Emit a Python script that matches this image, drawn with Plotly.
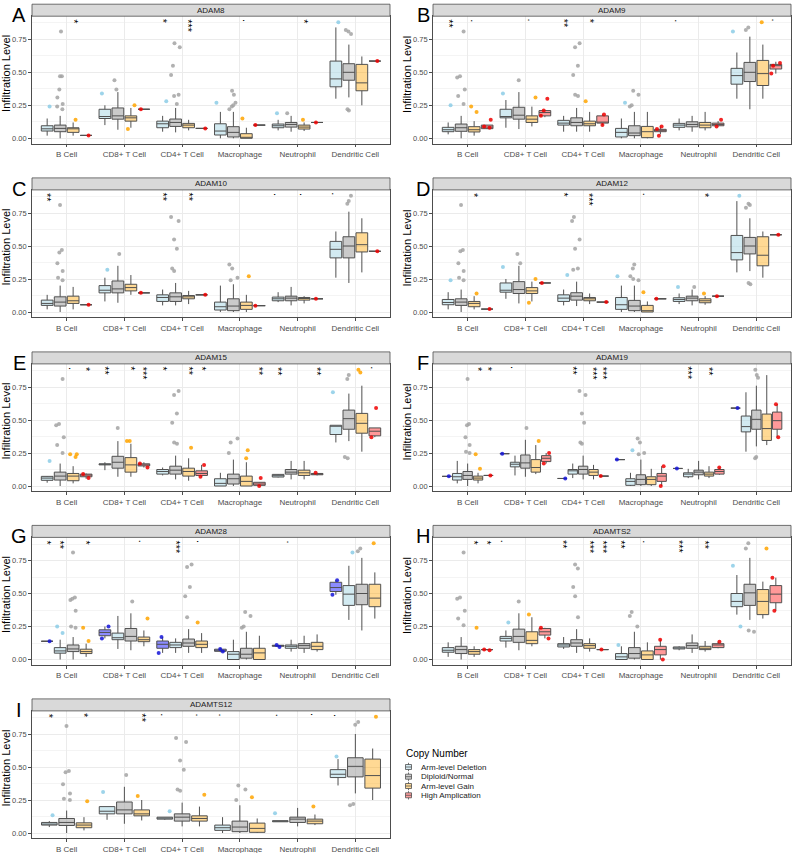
import plotly.graph_objects as go

CELLS = ["B Cell", "CD8+ T Cell", "CD4+ T Cell", "Macrophage", "Neutrophil", "Dendritic Cell"]
Y_TICKS = [0, 0.25, 0.5, 0.75]
Y_TICKTEXT = ["0.00", "0.25", "0.50", "0.75"]
LEGEND_LABELS = ["Arm-level Deletion", "Diploid/Normal", "Arm-level Gain", "High Amplication"]

# box stats per cell: (lower whisker, q1, median, q3, upper whisker); a single number = one sample
# ---- ADAM8 ----
A_DEL = [(0.02, 0.055, 0.072, 0.095, 0.15), (0.10, 0.15, 0.165, 0.22, 0.25), (0.05, 0.08, 0.11, 0.13, 0.17),
         (0.0, 0.025, 0.055, 0.11, 0.20), (0.06, 0.08, 0.095, 0.108, 0.14), (0.30, 0.39, 0.45, 0.585, 0.84)]
A_DIP = [(0.0, 0.05, 0.075, 0.10, 0.17), (0.065, 0.145, 0.17, 0.23, 0.35), (0.045, 0.09, 0.12, 0.146, 0.23),
         (0.0, 0.01, 0.045, 0.088, 0.20), (0.05, 0.085, 0.105, 0.12, 0.17), (0.31, 0.44, 0.50, 0.565, 0.71)]
A_GAIN = [(0.02, 0.045, 0.072, 0.08, 0.12), (0.08, 0.13, 0.155, 0.17, 0.23), (0.06, 0.08, 0.10, 0.113, 0.14),
          (0.0, 0.0, 0.005, 0.035, 0.08), (0.055, 0.07, 0.085, 0.10, 0.12), (0.25, 0.36, 0.42, 0.56, 0.62)]
A_AMP = [0.022, 0.22, 0.075, 0.10, 0.12, 0.585]
A_DEL_PTS = [[0.24], [0.34], [0.28], [0.27], [0.19], [0.88]]
A_DIP_PTS = [[0.81, 0.47, 0.47, 0.37, 0.31, 0.26, 0.24, 0.22], [0.44, 0.37], [0.72, 0.69, 0.55, 0.48, 0.33, 0.32, 0.26],
             [0.36, 0.33, 0.27, 0.25, 0.24, 0.22], [0.19], [0.82, 0.81, 0.79, 0.22, 0.21]]
A_GAIN_PTS = [[0.14], [0.25, 0.07], [], [0.15], [0.14], []]
A_SIG = [(0, "gain", "*"), (2, "del", "*"), (2, "gain", "***"), (3, "gain", "."), (4, "gain", "*")]

# ---- ADAM9 ----
B_DEL = [(0.03, 0.05, 0.065, 0.083, 0.12), (0.08, 0.155, 0.165, 0.22, 0.29), (0.05, 0.10, 0.115, 0.136, 0.17),
         (0.0, 0.01, 0.045, 0.075, 0.15), (0.06, 0.083, 0.10, 0.113, 0.15), (0.30, 0.41, 0.475, 0.53, 0.65)]
B_DIP = [(0.0, 0.053, 0.08, 0.108, 0.17), (0.07, 0.145, 0.175, 0.235, 0.35), (0.05, 0.095, 0.12, 0.155, 0.23),
         (0.0, 0.02, 0.04, 0.095, 0.20), (0.05, 0.087, 0.105, 0.125, 0.17), (0.22, 0.43, 0.50, 0.575, 0.77)]
B_GAIN = [(0.02, 0.048, 0.065, 0.088, 0.13), (0.09, 0.12, 0.145, 0.17, 0.24), (0.05, 0.095, 0.11, 0.13, 0.20),
          (0.0, 0.005, 0.05, 0.09, 0.20), (0.06, 0.08, 0.10, 0.12, 0.20), (0.30, 0.40, 0.49, 0.59, 0.71)]
B_AMP = [(0.07, 0.073, 0.085, 0.10, 0.10), (0.16, 0.17, 0.195, 0.21, 0.21), (0.10, 0.115, 0.12, 0.17, 0.18),
         (0.03, 0.05, 0.062, 0.068, 0.09), (0.09, 0.095, 0.105, 0.115, 0.13), (0.49, 0.525, 0.55, 0.56, 0.58)]
B_DEL_PTS = [[0.25], [0.34], [], [0.27], [], [0.81]]
B_DIP_PTS = [[0.81, 0.47, 0.46, 0.37, 0.32, 0.26], [0.44], [0.72, 0.69, 0.55, 0.48, 0.33, 0.32],
             [0.36, 0.33, 0.25, 0.24], [], [0.84, 0.82]]
B_GAIN_PTS = [[0.24, 0.20], [0.31], [0.28], [], [], [0.88]]
B_AMP_PTS = [[0.14, 0.08, 0.09], [0.30, 0.17, 0.21], [0.18, 0.10], [0.09, 0.02, 0.07], [0.14, 0.09], [0.57, 0.49, 0.55]]
B_SIG = [(0, "del", "**"), (0, "gain", "."), (1, "gain", "."), (2, "del", "**"), (2, "gain", "*"),
         (4, "del", "."), (5, "amp", ".")]

# ---- ADAM10 ----
C_DEL = [(0.02, 0.05, 0.065, 0.09, 0.13), (0.08, 0.145, 0.165, 0.20, 0.26), (0.05, 0.08, 0.11, 0.13, 0.17),
         (0.0, 0.015, 0.04, 0.075, 0.20), (0.075, 0.085, 0.10, 0.113, 0.15), (0.26, 0.41, 0.475, 0.535, 0.61)]
C_DIP = [(0.0, 0.045, 0.075, 0.115, 0.20), (0.07, 0.145, 0.175, 0.235, 0.35), (0.05, 0.08, 0.115, 0.145, 0.22),
         (0.0, 0.01, 0.045, 0.10, 0.21), (0.05, 0.085, 0.105, 0.12, 0.19), (0.22, 0.41, 0.50, 0.57, 0.76)]
C_GAIN = [(0.02, 0.065, 0.085, 0.12, 0.19), (0.13, 0.16, 0.185, 0.21, 0.28), (0.06, 0.10, 0.115, 0.125, 0.16),
          (0.0, 0.02, 0.05, 0.075, 0.13), (0.065, 0.09, 0.105, 0.11, 0.12), (0.30, 0.455, 0.51, 0.60, 0.71)]
C_AMP = [0.055, 0.145, 0.13, 0.048, 0.10, 0.46]
C_DEL_PTS = [[], [0.32], [], [], [], []]
C_DIP_PTS = [[0.81, 0.47, 0.45, 0.37, 0.31, 0.26, 0.24], [0.44], [0.72, 0.69, 0.55, 0.48, 0.33, 0.31],
             [0.36, 0.33, 0.26, 0.24], [], [0.88, 0.84, 0.82]]
C_GAIN_PTS = [[], [], [], [0.27], [], []]
C_SIG = [(0, "del", "**"), (2, "del", "**"), (2, "gain", "**"), (4, "del", "."), (4, "gain", "."), (5, "del", ".")]

# ---- ADAM12 ----
D_DEL = [(0.02, 0.055, 0.072, 0.095, 0.15), (0.10, 0.15, 0.165, 0.22, 0.25), (0.05, 0.08, 0.105, 0.13, 0.17),
         (0.0, 0.02, 0.055, 0.11, 0.20), (0.06, 0.08, 0.095, 0.108, 0.14), (0.30, 0.395, 0.45, 0.58, 0.84)]
D_DIP = [(0.0, 0.05, 0.075, 0.10, 0.17), (0.065, 0.14, 0.17, 0.23, 0.35), (0.045, 0.09, 0.12, 0.146, 0.23),
         (0.0, 0.01, 0.045, 0.088, 0.20), (0.05, 0.085, 0.105, 0.12, 0.17), (0.31, 0.44, 0.50, 0.565, 0.71)]
D_GAIN = [(0.02, 0.04, 0.065, 0.08, 0.12), (0.08, 0.14, 0.16, 0.185, 0.23), (0.06, 0.085, 0.10, 0.11, 0.14),
          (0.0, 0.0, 0.01, 0.05, 0.08), (0.055, 0.07, 0.085, 0.10, 0.12), (0.26, 0.35, 0.43, 0.57, 0.61)]
D_AMP = [0.022, 0.22, 0.075, 0.10, 0.12, 0.585]
D_DEL_PTS = [[0.24], [0.34], [0.28], [0.27], [0.19], [0.88]]
D_DIP_PTS = [[0.81, 0.47, 0.46, 0.37, 0.31, 0.26, 0.24], [0.44, 0.37], [0.72, 0.69, 0.55, 0.48, 0.33, 0.32],
             [0.36, 0.33, 0.27, 0.25, 0.24], [0.19], [0.82, 0.81, 0.79, 0.22, 0.21]]
D_GAIN_PTS = [[0.14], [0.25, 0.07], [], [0.15], [0.14], []]
D_SIG = [(0, "gain", "*"), (2, "del", "*"), (2, "gain", "***"), (3, "gain", "."), (4, "gain", "*")]

# ---- ADAM15 ----
E_DEL = [(0.025, 0.043, 0.06, 0.073, 0.075), (0.12, 0.16, 0.165, 0.168, 0.18), (0.08, 0.09, 0.11, 0.125, 0.14),
         (0.0, 0.0, 0.02, 0.055, 0.10), (0.065, 0.068, 0.078, 0.088, 0.09), (0.33, 0.39, 0.455, 0.46, 0.46)]
E_DIP = [(0.0, 0.045, 0.075, 0.105, 0.17), (0.07, 0.135, 0.18, 0.225, 0.34), (0.05, 0.09, 0.12, 0.15, 0.23),
         (0.0, 0.015, 0.055, 0.09, 0.20), (0.05, 0.09, 0.105, 0.125, 0.19), (0.34, 0.43, 0.51, 0.575, 0.70)]
E_GAIN = [(0.02, 0.04, 0.075, 0.095, 0.15), (0.07, 0.105, 0.16, 0.215, 0.32), (0.04, 0.075, 0.11, 0.135, 0.21),
          (0.0, 0.0, 0.035, 0.075, 0.18), (0.05, 0.08, 0.10, 0.12, 0.19), (0.26, 0.40, 0.475, 0.55, 0.76)]
E_AMP = [(0.055, 0.07, 0.083, 0.09, 0.095), (0.14, 0.152, 0.16, 0.168, 0.18), (0.07, 0.08, 0.095, 0.115, 0.16),
         (0.0, 0.005, 0.015, 0.028, 0.03), (0.08, 0.085, 0.09, 0.095, 0.10), (0.37, 0.38, 0.415, 0.44, 0.44)]
E_DEL_PTS = [[0.19], [], [], [], [], [0.71]]
E_DIP_PTS = [[0.81, 0.47, 0.46, 0.37, 0.31, 0.25], [0.44], [0.72, 0.69, 0.55, 0.48, 0.33, 0.32],
             [0.36, 0.33, 0.25], [], [0.84, 0.81, 0.22, 0.21]]
E_GAIN_PTS = [[0.24, 0.24, 0.22], [0.34, 0.34], [0.29], [0.27, 0.21], [], [0.88, 0.86]]
E_AMP_PTS = [[0.06, 0.09], [0.14, 0.17], [0.16, 0.07], [0.06, 0.0], [0.10], [0.59, 0.37]]
E_SIG = [(0, "gain", "."), (0, "amp", "*"), (1, "del", "**"), (1, "gain", "*"), (1, "amp", "***"),
         (2, "del", "*"), (2, "gain", "**"), (2, "amp", "*"), (3, "amp", "**"), (4, "del", "**"),
         (4, "amp", "**"), (5, "amp", ".")]

# ---- ADAM19 ----
F_DEEP = [0.073, 0.245, 0.057, 0.20, 0.133, 0.59]
F_DEL = [(0.02, 0.045, 0.07, 0.095, 0.19), (0.08, 0.145, 0.165, 0.18, 0.23), (0.06, 0.09, 0.115, 0.125, 0.17),
         (0.0, 0.005, 0.035, 0.055, 0.10), (0.06, 0.07, 0.09, 0.10, 0.13), (0.26, 0.41, 0.45, 0.53, 0.71)]
F_DIP = [(0.0, 0.05, 0.08, 0.11, 0.17), (0.07, 0.135, 0.175, 0.235, 0.35), (0.05, 0.09, 0.125, 0.15, 0.23),
         (0.0, 0.01, 0.05, 0.085, 0.20), (0.05, 0.085, 0.105, 0.12, 0.19), (0.30, 0.43, 0.505, 0.575, 0.76)]
F_GAIN = [(0.02, 0.045, 0.06, 0.075, 0.10), (0.09, 0.105, 0.14, 0.20, 0.31), (0.05, 0.08, 0.105, 0.125, 0.16),
          (0.0, 0.01, 0.05, 0.07, 0.13), (0.06, 0.075, 0.09, 0.105, 0.15), (0.31, 0.345, 0.435, 0.545, 0.84)]
F_AMP = [0.08, (0.17, 0.185, 0.21, 0.23, 0.25), 0.075, (0.0, 0.035, 0.075, 0.095, 0.15),
         (0.085, 0.09, 0.11, 0.125, 0.14), (0.37, 0.43, 0.495, 0.56, 0.62)]
F_DEL_PTS = [[], [], [], [0.27], [], []]
F_DIP_PTS = [[0.81, 0.47, 0.46, 0.37, 0.31, 0.26, 0.25], [0.44], [0.72, 0.69, 0.55, 0.48, 0.33, 0.32],
             [0.36, 0.33, 0.25, 0.24], [], [0.88, 0.84, 0.82, 0.22, 0.21]]
F_GAIN_PTS = [[0.24, 0.13], [0.34], [], [], [], []]
F_AMP_PTS = [[0.08], [0.25, 0.17], [0.075], [0.15, 0.0], [0.14], [0.62, 0.37]]
F_SIG = [(0, "gain", "*"), (0, "amp", "*"), (1, "del", "."), (2, "del", "**"), (2, "gain", "***"),
         (2, "amp", "***"), (4, "del", "***"), (4, "gain", "**")]

# ---- ADAM28 ----
G_DEEP = [0.138, (0.16, 0.18, 0.205, 0.225, 0.25), (0.05, 0.085, 0.115, 0.14, 0.17),
          (0.055, 0.062, 0.07, 0.078, 0.085), (0.095, 0.10, 0.105, 0.108, 0.11), (0.49, 0.515, 0.545, 0.585, 0.60)]
G_DEL = [(0.0, 0.048, 0.065, 0.09, 0.15), (0.08, 0.15, 0.165, 0.20, 0.33), (0.05, 0.09, 0.11, 0.13, 0.16),
         (0.0, 0.0, 0.04, 0.06, 0.15), (0.06, 0.085, 0.10, 0.11, 0.15), (0.30, 0.41, 0.495, 0.56, 0.71)]
G_DIP = [(0.0, 0.06, 0.08, 0.11, 0.17), (0.07, 0.14, 0.175, 0.235, 0.35), (0.05, 0.10, 0.125, 0.155, 0.23),
         (0.0, 0.01, 0.04, 0.085, 0.21), (0.05, 0.085, 0.105, 0.12, 0.18), (0.22, 0.415, 0.50, 0.57, 0.77)]
G_GAIN = [(0.02, 0.045, 0.06, 0.078, 0.12), (0.10, 0.135, 0.15, 0.17, 0.22), (0.05, 0.09, 0.115, 0.14, 0.20),
          (0.0, 0.0, 0.05, 0.085, 0.18), (0.06, 0.075, 0.10, 0.13, 0.19), (0.31, 0.40, 0.465, 0.57, 0.66)]
G_DEEP_PTS = [[0.138], [0.25, 0.16], [0.17, 0.05], [0.08, 0.06], [0.11, 0.095], [0.60, 0.49]]
G_DEL_PTS = [[0.25, 0.20], [], [], [], [], [0.81]]
G_DIP_PTS = [[0.81, 0.47, 0.46, 0.45, 0.37, 0.25, 0.24], [0.44], [0.72, 0.70, 0.55, 0.48, 0.32],
             [0.36, 0.33, 0.25, 0.24], [], [0.84, 0.82]]
G_GAIN_PTS = [[0.24, 0.14], [0.31], [0.28], [], [], [0.88]]
G_SIG = [(0, "deep", "*"), (0, "del", "**"), (0, "gain", "*"), (1, "gain", "."), (2, "del", "***"),
         (2, "gain", "."), (4, "del", ".")]

# ---- ADAMTS2 ----
H_DEL = [(0.02, 0.055, 0.07, 0.09, 0.13), (0.09, 0.14, 0.16, 0.175, 0.22), (0.08, 0.095, 0.11, 0.12, 0.17),
         (0.0, 0.0, 0.02, 0.045, 0.10), (0.07, 0.08, 0.09, 0.095, 0.10), (0.34, 0.40, 0.44, 0.50, 0.64)]
H_DIP = [(0.0, 0.045, 0.075, 0.10, 0.17), (0.07, 0.13, 0.175, 0.23, 0.35), (0.05, 0.10, 0.125, 0.15, 0.23),
         (0.0, 0.01, 0.045, 0.09, 0.21), (0.05, 0.085, 0.105, 0.125, 0.19), (0.30, 0.41, 0.505, 0.57, 0.77)]
H_GAIN = [(0.02, 0.04, 0.06, 0.075, 0.10), (0.10, 0.12, 0.145, 0.21, 0.32), (0.06, 0.085, 0.105, 0.12, 0.16),
          (0.0, 0.0, 0.035, 0.065, 0.13), (0.06, 0.075, 0.085, 0.10, 0.14), (0.31, 0.34, 0.44, 0.53, 0.59)]
H_AMP = [0.075, (0.16, 0.185, 0.21, 0.235, 0.24), 0.075, (0.0, 0.035, 0.075, 0.10, 0.15),
         (0.085, 0.09, 0.11, 0.12, 0.135), (0.37, 0.43, 0.495, 0.56, 0.62)]
H_DEL_PTS = [[], [0.28], [], [0.11], [], [0.71, 0.25]]
H_DIP_PTS = [[0.81, 0.47, 0.46, 0.37, 0.31, 0.26], [0.44], [0.72, 0.69, 0.55, 0.48, 0.32],
             [0.36, 0.33, 0.25], [], [0.88, 0.84, 0.22, 0.21]]
H_GAIN_PTS = [[0.24], [0.34], [], [], [], [0.84]]
H_AMP_PTS = [[0.075, 0.07], [0.24, 0.16], [0.075], [0.15, 0.0], [0.135], [0.62, 0.37]]
H_SIG = [(0, "gain", "*"), (0, "amp", "*"), (1, "del", "."), (2, "del", "**"), (2, "gain", "***"),
         (2, "amp", "***"), (3, "del", "**"), (3, "gain", "."), (4, "del", "***"), (4, "gain", "**")]

# ---- ADAMTS12 ----
I_DEL = [(0.045, 0.06, 0.065, 0.08, 0.09), (0.10, 0.145, 0.165, 0.20, 0.20), (0.10, 0.105, 0.113, 0.12, 0.12),
         (0.0, 0.02, 0.04, 0.06, 0.12), (0.085, 0.085, 0.09, 0.093, 0.093), (0.36, 0.42, 0.445, 0.48, 0.56)]
I_DIP = [(0.0, 0.057, 0.08, 0.11, 0.17), (0.07, 0.145, 0.175, 0.235, 0.35), (0.05, 0.09, 0.12, 0.145, 0.23),
         (0.0, 0.01, 0.045, 0.09, 0.21), (0.05, 0.08, 0.105, 0.12, 0.19), (0.30, 0.425, 0.505, 0.57, 0.75)]
I_GAIN = [(0.02, 0.04, 0.06, 0.077, 0.12), (0.095, 0.13, 0.145, 0.175, 0.25), (0.05, 0.09, 0.11, 0.13, 0.20),
          (0.0, 0.005, 0.035, 0.075, 0.11), (0.06, 0.07, 0.09, 0.105, 0.14), (0.25, 0.34, 0.435, 0.56, 0.64)]
I_DEL_PTS = [[0.135], [0.31], [0.165], [], [0.15], [0.58]]
I_DIP_PTS = [[0.81, 0.47, 0.46, 0.37, 0.30, 0.26, 0.25], [0.44], [0.72, 0.69, 0.55, 0.48, 0.33, 0.32],
             [0.36, 0.33, 0.25], [], [0.84, 0.82, 0.22, 0.21]]
I_GAIN_PTS = [[0.24], [0.28], [0.29], [0.27], [0.20], [0.88]]
I_SIG = [(0, "del", "*"), (0, "gain", "*"), (1, "gain", "**"), (2, "del", "."), (2, "gain", "."),
         (3, "del", "."), (4, "del", "."), (4, "gain", "."), (5, "del", ".")]


def single_pts(vals):
    return [[v] if not isinstance(v, tuple) else [] for v in vals]


PANELS = [
    ("A", "ADAM8", [("del", A_DEL, A_DEL_PTS), ("dip", A_DIP, A_DIP_PTS), ("gain", A_GAIN, A_GAIN_PTS),
                    ("amp", A_AMP, single_pts(A_AMP))], A_SIG),
    ("B", "ADAM9", [("del", B_DEL, B_DEL_PTS), ("dip", B_DIP, B_DIP_PTS), ("gain", B_GAIN, B_GAIN_PTS),
                    ("amp", B_AMP, B_AMP_PTS)], B_SIG),
    ("C", "ADAM10", [("del", C_DEL, C_DEL_PTS), ("dip", C_DIP, C_DIP_PTS), ("gain", C_GAIN, C_GAIN_PTS),
                     ("amp", C_AMP, single_pts(C_AMP))], C_SIG),
    ("D", "ADAM12", [("del", D_DEL, D_DEL_PTS), ("dip", D_DIP, D_DIP_PTS), ("gain", D_GAIN, D_GAIN_PTS),
                     ("amp", D_AMP, single_pts(D_AMP))], D_SIG),
    ("E", "ADAM15", [("del", E_DEL, E_DEL_PTS), ("dip", E_DIP, E_DIP_PTS), ("gain", E_GAIN, E_GAIN_PTS),
                     ("amp", E_AMP, E_AMP_PTS)], E_SIG),
    ("F", "ADAM19", [("deep", F_DEEP, single_pts(F_DEEP)), ("del", F_DEL, F_DEL_PTS), ("dip", F_DIP, F_DIP_PTS),
                     ("gain", F_GAIN, F_GAIN_PTS), ("amp", F_AMP, F_AMP_PTS)], F_SIG),
    ("G", "ADAM28", [("deep", G_DEEP, G_DEEP_PTS), ("del", G_DEL, G_DEL_PTS), ("dip", G_DIP, G_DIP_PTS),
                     ("gain", G_GAIN, G_GAIN_PTS)], G_SIG),
    ("H", "ADAMTS2", [("del", H_DEL, H_DEL_PTS), ("dip", H_DIP, H_DIP_PTS), ("gain", H_GAIN, H_GAIN_PTS),
                      ("amp", H_AMP, H_AMP_PTS)], H_SIG),
    ("I", "ADAMTS12", [("del", I_DEL, I_DEL_PTS), ("dip", I_DIP, I_DIP_PTS), ("gain", I_GAIN, I_GAIN_PTS)], I_SIG),
]

FILL = {"deep": "rgba(0,0,255,0.45)", "del": "rgba(173,216,230,0.55)", "dip": "rgba(150,150,150,0.5)",
        "gain": "rgba(255,165,0,0.42)", "amp": "rgba(255,0,0,0.4)"}
PT = {"deep": "#1414D8", "del": "#8CCDE6", "dip": "#A3A3A3", "gain": "#FFA500", "amp": "#F00000"}
KEY_FILL = ["#D6ECF3", "#CFCFCF", "#FFDB99", "#FF9E9E"]

FONT = "Liberation Sans, Arial, sans-serif"
W, H = 794, 853
COLS = [(32, 390), (433, 791)]
ZERO = [138.3, 312.0, 486.0, 659.5, 833.0]
PXU = 132.0
YR = [-0.04, 0.925]
STRIP = 12


def fx(p):
    return p / W


def fy(p):
    return 1 - p / H


def stat5(v):
    return v if isinstance(v, tuple) else (v, v, v, v, v)


fig = go.Figure()
layout = {}
shapes = []
annotations = []

for k, (letter, gene, groups, sig) in enumerate(PANELS):
    r, c = divmod(k, 2)
    x0, x1 = COLS[c]
    top = ZERO[r] - YR[1] * PXU
    bot = ZERO[r] - YR[0] * PXU
    sfx = "" if k == 0 else str(k + 1)
    xa, ya = "x" + sfx, "y" + sfx
    layout["xaxis" + sfx] = dict(
        domain=[fx(x0), fx(x1)], anchor=ya, range=[-0.6, 5.6], tickmode="array",
        tickvals=list(range(6)), ticktext=CELLS, showgrid=True, gridcolor="#EBEBEB", gridwidth=0.8,
        zeroline=False, showline=True, mirror=True, linecolor="#4D4D4D", linewidth=0.8,
        ticks="outside", ticklen=3, tickcolor="#4D4D4D", tickwidth=0.8,
        tickfont=dict(size=8, color="#4D4D4D", family=FONT))
    layout["yaxis" + sfx] = dict(
        domain=[fy(bot), fy(top)], anchor=xa, range=YR, tickmode="array", tickvals=Y_TICKS,
        ticktext=Y_TICKTEXT, showgrid=True, gridcolor="#EBEBEB", gridwidth=0.8, zeroline=False,
        showline=True, mirror=True, linecolor="#4D4D4D", linewidth=0.8, ticks="outside",
        ticklen=3, tickcolor="#4D4D4D", tickwidth=0.8,
        tickfont=dict(size=7.5, color="#4D4D4D", family=FONT),
        minor=dict(tickvals=[0.125, 0.375, 0.625, 0.875], showgrid=True, gridcolor="#F4F4F4",
                   gridwidth=0.6, ticks=""))

    n = len(groups)
    slot = 0.9 / n
    gidx = {g: i for i, (g, _, _) in enumerate(groups)}
    agroup = "p%d" % k

    # boxes
    for g, vals, pts in groups:
        st = [stat5(v) for v in vals]
        fig.add_trace(go.Box(
            x=list(range(6)), lowerfence=[s[0] for s in st], q1=[s[1] for s in st],
            median=[s[2] for s in st], q3=[s[3] for s in st], upperfence=[s[4] for s in st],
            xaxis=xa, yaxis=ya, alignmentgroup=agroup, offsetgroup=agroup + g,
            fillcolor=FILL[g], line=dict(color="#505050", width=1), whiskerwidth=0,
            boxpoints=False, showlegend=False, hoverinfo="skip"))
    # points
    for g, vals, pts in groups:
        xs, ys = [], []
        for ci, plist in enumerate(pts):
            for v in plist:
                xs.append(ci)
                ys.append(v)
        if not ys:
            continue
        fig.add_trace(go.Box(
            x=xs, y=ys, xaxis=xa, yaxis=ya, alignmentgroup=agroup, offsetgroup=agroup + g,
            boxpoints="all", jitter=0.8, pointpos=0, fillcolor="rgba(0,0,0,0)",
            line=dict(color="rgba(0,0,0,0)", width=0), whiskerwidth=0,
            marker=dict(color=PT[g], size=4, opacity=0.85), showlegend=False, hoverinfo="skip"))

    # significance marks
    for ci, g, lab in sig:
        xpos = ci - 0.45 + slot * (gidx[g] + 0.5)
        annotations.append(dict(x=xpos, y=0.92, xref=xa, yref=ya, text=lab, showarrow=False,
                                textangle=90, yanchor="top", xanchor="center",
                                font=dict(size=11, color="#000000", family=FONT)))

    # strip
    shapes.append(dict(type="rect", xref="paper", yref="paper", x0=fx(x0), x1=fx(x1),
                       y0=fy(top), y1=fy(top - STRIP), fillcolor="#D9D9D9",
                       line=dict(color="#4D4D4D", width=0.8), layer="above"))
    annotations.append(dict(x=fx((x0 + x1) / 2), y=fy(top - STRIP / 2), xref="paper", yref="paper",
                            text=gene, showarrow=False, font=dict(size=8, color="#1A1A1A", family=FONT),
                            xanchor="center", yanchor="middle"))
    # y title
    annotations.append(dict(x=fx(x0 - 26), y=fy((top - STRIP + bot) / 2), xref="paper", yref="paper",
                            text="Infiltration Level", textangle=-90, showarrow=False,
                            font=dict(size=11, color="#000000", family=FONT),
                            xanchor="center", yanchor="middle"))
    # panel letter
    annotations.append(dict(x=fx(19 if c == 0 else 423), y=fy(top - 1), xref="paper", yref="paper",
                            text=letter, showarrow=False, font=dict(size=20, color="#000000", family=FONT),
                            xanchor="center", yanchor="middle"))

# legend (drawn manually)
annotations.append(dict(x=fx(404), y=fy(753), xref="paper", yref="paper", text="Copy Number",
                        showarrow=False, xanchor="left", yanchor="middle",
                        font=dict(size=10, color="#000000", family=FONT)))
LEG_Y = [767.0, 776.7, 786.0, 795.3]
for lab, kf, cy in zip(LEGEND_LABELS, KEY_FILL, LEG_Y):
    shapes.append(dict(type="rect", xref="paper", yref="paper", x0=fx(405.5), x1=fx(411.5),
                       y0=fy(cy + 2.5), y1=fy(cy - 2.5), fillcolor=kf,
                       line=dict(color="#505050", width=0.8)))
    for ya0, ya1 in ((cy - 4.2, cy - 2.5), (cy + 2.5, cy + 4.2)):
        shapes.append(dict(type="line", xref="paper", yref="paper", x0=fx(408.5), x1=fx(408.5),
                           y0=fy(ya0), y1=fy(ya1), line=dict(color="#505050", width=0.8)))
    shapes.append(dict(type="line", xref="paper", yref="paper", x0=fx(405.5), x1=fx(411.5),
                       y0=fy(cy), y1=fy(cy), line=dict(color="#505050", width=0.8)))
    annotations.append(dict(x=fx(419), y=fy(cy), xref="paper", yref="paper", text=lab,
                            showarrow=False, xanchor="left", yanchor="middle",
                            font=dict(size=8, color="#1A1A1A", family=FONT)))

fig.update_layout(
    width=W, height=H, autosize=False, margin=dict(l=0, r=0, t=0, b=0),
    paper_bgcolor="white", plot_bgcolor="white", boxmode="group", boxgap=0.1, boxgroupgap=0.1,
    showlegend=False, font=dict(family=FONT), shapes=shapes, annotations=annotations, **layout)

fig.write_html("out.html", config={"displayModeBar": False},
               post_script="document.body.style.margin='0';document.body.style.padding='0';"
                           "document.body.style.overflow='hidden';")
